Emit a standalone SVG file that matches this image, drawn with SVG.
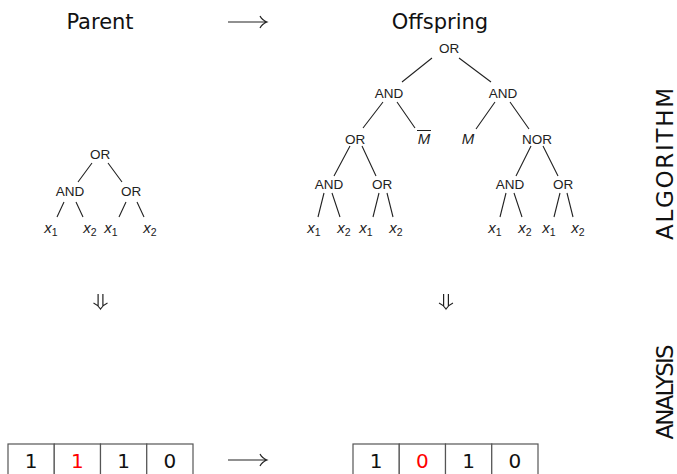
<svg xmlns="http://www.w3.org/2000/svg" width="677" height="474" viewBox="0 0 677 474">
<style>
.t{font-family:"DejaVu Sans",sans-serif;fill:#111}
.h{font-size:21px}
.s{font-size:23px}
.n{font-family:"Liberation Sans",Arial,sans-serif;font-size:13.5px;fill:#222;text-anchor:middle}
.v{font-family:"Liberation Sans",Arial,sans-serif;font-size:15px;fill:#222;text-anchor:middle}
.e{stroke:#222;stroke-width:1.1;fill:none}
.a{stroke:#222;stroke-width:1.2;fill:none}
.c{fill:#fff;stroke:#555;stroke-width:1.2}
.d{font-family:"DejaVu Sans",sans-serif;font-size:20px;text-anchor:middle;fill:#111}
.r{fill:#ff0000}
</style>
<defs>
<g id="rarr"><path class="a" d="M0 0H38M32 -6Q34 -2 39 0Q34 2 32 6"/></g>
<g id="darr"><path class="a" d="M-2.4 0V12M2.4 0V12M-7 9Q-2.5 11 0 15Q2.5 11 7 9"/></g>
</defs>

<g id="headers">
<text class="t h" x="100" y="29" text-anchor="middle">Parent</text>
<text class="t h" x="440" y="29" text-anchor="middle">Offspring</text>
<text class="t s" transform="translate(673,164) rotate(-90)" text-anchor="middle" textLength="152" lengthAdjust="spacing">ALGORITHM</text>
<text class="t s" transform="translate(673,392) rotate(-90)" text-anchor="middle" textLength="95" lengthAdjust="spacing">ANALYSIS</text>
</g>

<g id="connectors">
<use href="#rarr" x="228" y="22"/>
<use href="#rarr" x="228" y="460"/>
<use href="#darr" x="100.5" y="294"/>
<use href="#darr" x="446" y="294"/>
<!-- parent tree -->
<path class="e" d="M92 163L78 182M108 163L122 182M64 202L57 217M76 202L83 217M126 202L119 217M137 202L144 217"/>
<!-- offspring tree -->
<path class="e" d="M432 58L402 82M459 58L491 82"/>
<path class="e" d="M383 102L363 128M397 102L415 128M495 102L476 129M510 102L529 129"/>
<path class="e" d="M350 146L334 176M362 146L376 176"/>
<path class="e" d="M531 146L516 176M543 146L558 176"/>
<path class="e" d="M324 193L318 217M332 193L340 217M379 193L373 217M387 193L393 217"/>
<path class="e" d="M506 193L500 217M514 193L522 217M560 193L554 217M567 193L573 217"/>
</g>

<g id="parent-tree">
<g id="p-or"><text class="n" x="100" y="159">OR</text></g>
<g id="p-and"><text class="n" x="70" y="196">AND</text></g>
<g id="p-or2"><text class="n" x="131" y="196">OR</text></g>
<g id="p-x1a"><text class="v" x="51" y="233"><tspan font-style="italic">x</tspan><tspan font-size="10.5" dy="3">1</tspan></text></g>
<g id="p-x2a"><text class="v" x="90" y="233"><tspan font-style="italic">x</tspan><tspan font-size="10.5" dy="3">2</tspan></text></g>
<g id="p-x1b"><text class="v" x="111" y="233"><tspan font-style="italic">x</tspan><tspan font-size="10.5" dy="3">1</tspan></text></g>
<g id="p-x2b"><text class="v" x="150" y="233"><tspan font-style="italic">x</tspan><tspan font-size="10.5" dy="3">2</tspan></text></g>
</g>

<g id="offspring-tree">
<g id="o-or"><text class="n" x="449" y="53">OR</text></g>
<g id="o-and1"><text class="n" x="389" y="98">AND</text></g>
<g id="o-and2"><text class="n" x="503" y="98">AND</text></g>
<g id="o-or1"><text class="n" x="355" y="144">OR</text></g>
<g id="o-mbar"><text class="v" x="424" y="144" font-style="italic" font-size="13.5">M</text><line x1="417" y1="130.5" x2="431" y2="130.5" stroke="#222" stroke-width="1"/></g>
<g id="o-m"><text class="v" x="468" y="144" font-style="italic" font-size="13.5">M</text></g>
<g id="o-nor"><text class="n" x="537" y="144">NOR</text></g>
<g id="o-and3"><text class="n" x="329" y="189">AND</text></g>
<g id="o-or2"><text class="n" x="382" y="189">OR</text></g>
<g id="o-and4"><text class="n" x="510" y="189">AND</text></g>
<g id="o-or3"><text class="n" x="563" y="189">OR</text></g>
<g id="o-x1a"><text class="v" x="314" y="233"><tspan font-style="italic">x</tspan><tspan font-size="10.5" dy="3">1</tspan></text></g>
<g id="o-x2a"><text class="v" x="344" y="233"><tspan font-style="italic">x</tspan><tspan font-size="10.5" dy="3">2</tspan></text></g>
<g id="o-x1b"><text class="v" x="366" y="233"><tspan font-style="italic">x</tspan><tspan font-size="10.5" dy="3">1</tspan></text></g>
<g id="o-x2b"><text class="v" x="396" y="233"><tspan font-style="italic">x</tspan><tspan font-size="10.5" dy="3">2</tspan></text></g>
<g id="o-x1c"><text class="v" x="495" y="233"><tspan font-style="italic">x</tspan><tspan font-size="10.5" dy="3">1</tspan></text></g>
<g id="o-x2c"><text class="v" x="525" y="233"><tspan font-style="italic">x</tspan><tspan font-size="10.5" dy="3">2</tspan></text></g>
<g id="o-x1d"><text class="v" x="549" y="233"><tspan font-style="italic">x</tspan><tspan font-size="10.5" dy="3">1</tspan></text></g>
<g id="o-x2d"><text class="v" x="578" y="233"><tspan font-style="italic">x</tspan><tspan font-size="10.5" dy="3">2</tspan></text></g>
</g>

<g id="parent-bits">
<rect class="c" x="8" y="444" width="46.25" height="40"/>
<rect class="c" x="54.25" y="444" width="46.25" height="40"/>
<rect class="c" x="100.5" y="444" width="46.25" height="40"/>
<rect class="c" x="146.75" y="444" width="46.25" height="40"/>
<text class="d" x="31" y="468">1</text>
<text class="d r" x="77.4" y="468">1</text>
<text class="d" x="123.6" y="468">1</text>
<text class="d" x="169.9" y="468">0</text>
</g>

<g id="offspring-bits">
<rect class="c" x="353" y="444" width="46.25" height="40"/>
<rect class="c" x="399.25" y="444" width="46.25" height="40"/>
<rect class="c" x="445.5" y="444" width="46.25" height="40"/>
<rect class="c" x="491.75" y="444" width="46.25" height="40"/>
<text class="d" x="376" y="468">1</text>
<text class="d r" x="422.4" y="468">0</text>
<text class="d" x="468.6" y="468">1</text>
<text class="d" x="514.9" y="468">0</text>
</g>
</svg>
